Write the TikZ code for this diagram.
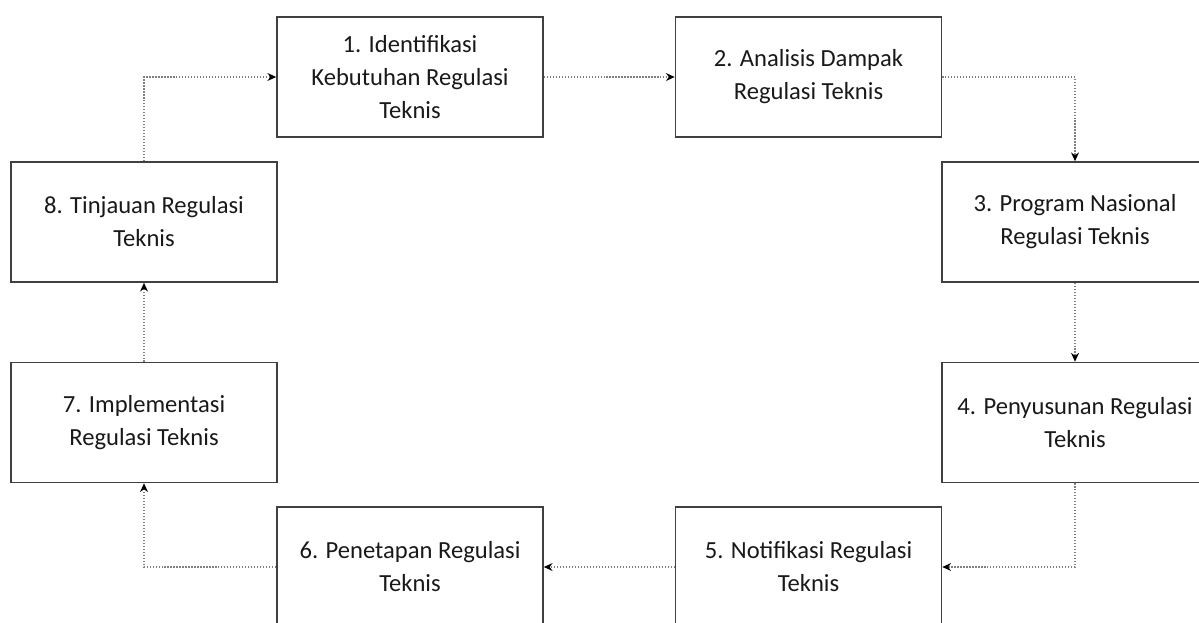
\documentclass[tikz,border=0pt]{standalone}
\usepackage{fontspec}
\setmainfont{Carlito}
\usetikzlibrary{positioning}
\usetikzlibrary{arrows.meta}

\begin{document}
\begin{tikzpicture}[x=0.02cm, y=-0.02cm,
    stage/.style={draw=black!75, line width=0.9pt, fill=white, minimum width=5.32cm, minimum height=2.4cm,
        align=center, text=black!90, font=\fontsize{14}{18.8}\selectfont},
    flow/.style={black!50, densely dotted, line width=0.7pt, -{Stealth[length=5pt,width=4.5pt,black]}}]

\clip (0,0) rectangle (1199,622);

% top row
\node[stage] (ident) at (410,77) {1. Identifikasi\\Kebutuhan Regulasi\\Teknis};
\node[stage] (analisis) at (808.5,77) {2. Analisis Dampak\\Regulasi Teknis};

% right column
\node[stage] (program) at (1075,222) {3. Program Nasional\\Regulasi Teknis};
\node[stage] (penyusunan) at (1075,422.5) {4. Penyusunan Regulasi\\Teknis};

% bottom row
\node[stage] (notifikasi) at (808.5,567) {5. Notifikasi Regulasi\\Teknis};
\node[stage] (penetapan) at (410,567) {6. Penetapan Regulasi\\Teknis};

% left column
\node[stage] (implementasi) at (144,422.5) {7. Implementasi\\Regulasi Teknis};
\node[stage] (tinjauan) at (144,222) {8. Tinjauan Regulasi\\Teknis};

% cycle
\draw[flow] (ident) -- (analisis);
\draw[flow] (analisis.east) -| (program.north);
\draw[flow] (program) -- (penyusunan);
\draw[flow] (penyusunan.south) |- (notifikasi.east);
\draw[flow] (notifikasi) -- (penetapan);
\draw[flow] (penetapan.west) -| (implementasi.south);
\draw[flow] (implementasi) -- (tinjauan);
\draw[flow] (tinjauan.north) |- (ident.west);

\end{tikzpicture}
\end{document}
